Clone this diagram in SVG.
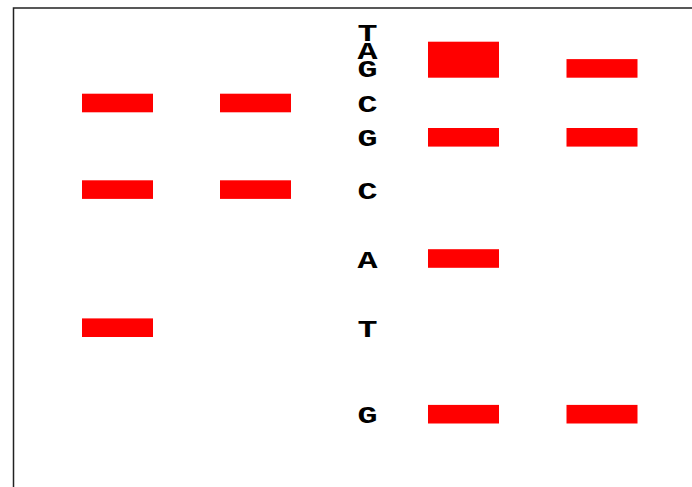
<svg xmlns="http://www.w3.org/2000/svg" width="692" height="487" viewBox="0 0 692 487">
<style>
.band{fill:#ff0000}
.base{font-family:"Liberation Mono","Courier New",monospace;font-weight:bold;font-size:23px;fill:#000;text-anchor:middle}
</style>
<rect x="0" y="0" width="692" height="487" fill="#ffffff"/>
<rect id="frame" x="13.5" y="8" width="700" height="500" fill="none" stroke="#222" stroke-width="1.5"/>
<g id="lane1">
<rect class="band" x="82" y="93.7" width="71" height="18.6"/>
<rect class="band" x="82" y="180.3" width="71" height="18.6"/>
<rect class="band" x="82" y="318.4" width="71" height="18.6"/>
</g>
<g id="lane2">
<rect class="band" x="220" y="93.7" width="71" height="18.6"/>
<rect class="band" x="220" y="180.3" width="71" height="18.6"/>
</g>
<g id="sequence">
<text class="base" transform="translate(367.5,41) scale(1.45,1)">T</text>
<text class="base" transform="translate(367.5,58.5) scale(1.45,1)">A</text>
<text class="base" transform="translate(367.5,77) scale(1.45,1)">G</text>
<text class="base" transform="translate(367.5,112) scale(1.45,1)">C</text>
<text class="base" transform="translate(367.5,146) scale(1.45,1)">G</text>
<text class="base" transform="translate(367.5,198.5) scale(1.45,1)">C</text>
<text class="base" transform="translate(367.5,267.5) scale(1.45,1)">A</text>
<text class="base" transform="translate(367.5,336.5) scale(1.45,1)">T</text>
<text class="base" transform="translate(367.5,423) scale(1.45,1)">G</text>
</g>
<g id="lane3">
<rect class="band" x="428" y="41.7" width="71" height="18.6"/>
<rect class="band" x="428" y="59.1" width="71" height="18.6"/>
<rect class="band" x="428" y="128" width="71" height="18.6"/>
<rect class="band" x="428" y="249.2" width="71" height="18.6"/>
<rect class="band" x="428" y="404.9" width="71" height="18.6"/>
</g>
<g id="lane4">
<rect class="band" x="566.5" y="59.1" width="71" height="18.6"/>
<rect class="band" x="566.5" y="128" width="71" height="18.6"/>
<rect class="band" x="566.5" y="404.9" width="71" height="18.6"/>
</g>
</svg>
